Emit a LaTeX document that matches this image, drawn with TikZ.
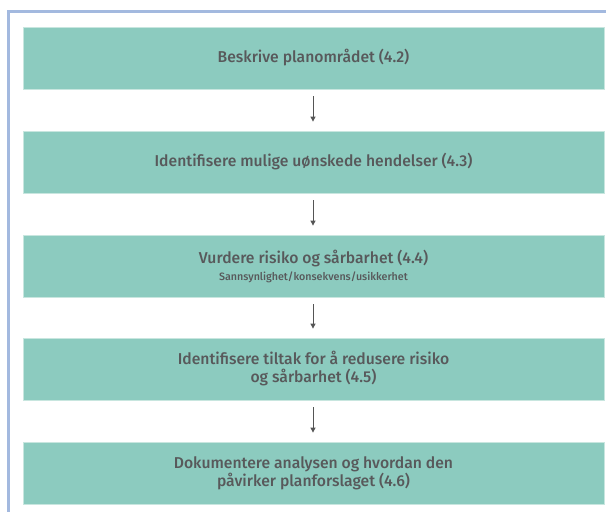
\documentclass[tikz,border=0pt]{standalone}
\usepackage{fontspec}
\setmainfont{Fira Sans}[UprightFont=* Medium, BoldFont=* SemiBold]
\usetikzlibrary{arrows.meta}
\definecolor{boxfill}{HTML}{8CCBBF}
\definecolor{boxedge}{HTML}{C8E6DF}
\definecolor{txt}{HTML}{58595B}
\definecolor{frame}{HTML}{A3B9DF}
\definecolor{arr}{HTML}{555555}
\tikzset{
  stepbox/.style={rectangle, fill=boxfill, draw=boxedge, line width=0.8pt,
    minimum width=581pt, minimum height=62pt, inner sep=0pt,
    text=txt, align=center, font=\fontsize{15.7}{18}\selectfont},
  flow/.style={draw=arr, line width=0.9pt, -{Triangle[length=5pt,width=5pt]},
    shorten <=7pt, shorten >=9pt}
}
\begin{document}
\begin{tikzpicture}[x=1pt,y=-1pt]
\useasboundingbox (0,0) rectangle (606,512);
\clip (0,0) rectangle (606,512);
\fill[white] (0,0) rectangle (606,512);
\coordinate (fb) at (8.7,520);
\coordinate (fc) at (8.7,11.5);
\coordinate (fr) at (620,11.5);
\draw[frame, line width=2.5pt] (fb) -- (fc) -- (fr);
\node[stepbox] (b1) at (313.5,58) {Beskrive planområdet (4.2)};
\node[stepbox] (b2) at (313.5,162) {Identifisere mulige uønskede hendelser (4.3)};
\node[stepbox] (b3) at (313.5,266) {Vurdere risiko og sårbarhet (4.4)\\[-1pt]{\fontsize{10.7}{12}\selectfont Sannsynlighet/konsekvens/usikkerhet}};
\node[stepbox] (b4) at (313.5,369) {Identifisere tiltak for å redusere risiko\\og sårbarhet (4.5)};
\node[stepbox] (b5) at (313.5,473) {Dokumentere analysen og hvordan den\\påvirker planforslaget (4.6)};
\draw[flow] (b1.south -| 313,0) -- (b2.north -| 313,0);
\draw[flow] (b2.south -| 313,0) -- (b3.north -| 313,0);
\draw[flow] (b3.south -| 313,0) -- (b4.north -| 313,0);
\draw[flow] (b4.south -| 313,0) -- (b5.north -| 313,0);
\end{tikzpicture}
\end{document}
